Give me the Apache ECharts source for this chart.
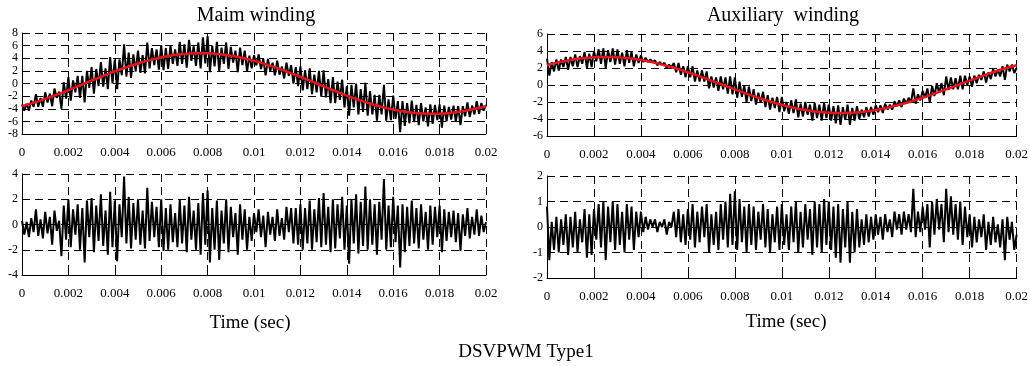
<!DOCTYPE html>
<html><head><meta charset="utf-8">
<script src="https://cdn.jsdelivr.net/npm/echarts@6/dist/echarts.min.js"></script>
<style>html,body{margin:0;padding:0;background:#fff}#c{width:1031px;height:366px}</style>
</head><body><div id="c"></div>
<script>
// sample spacing of the measured signals (s) and of the fitted fundamentals (s)
const sampleStep = 0.0001;
const fitStep = 0.0005;
const xTicks = [0,0.002,0.004,0.006,0.008,0.01,0.012,0.014,0.016,0.018,0.02];

// Main winding current (A), measured
const mainCurrent = [
-3.3,-4.3,-3.2,-4.3,-2.7,-3.7,-1.7,-3.7,-2.3,-3.7,
-1.4,-3.0,-1.6,-3.6,-0.8,-2.3,-1.3,-4.0,0.2,-2.4,
1.0,-2.7,0.5,-1.4,1.2,-2.3,1.2,-3.0,2.0,-0.7,
2.6,-1.6,2.3,-0.4,3.4,-0.5,2.4,-0.9,4.2,0.0,
3.8,-0.9,3.8,1.3,6.2,1.1,4.9,0.9,4.6,1.9,
5.2,1.7,4.5,1.6,6.5,2.4,5.6,2.9,5.4,2.2,
6.1,2.1,5.6,2.3,6.0,3.1,5.4,2.8,6.6,3.1,
6.2,2.5,6.9,3.6,5.9,2.8,6.5,2.4,7.3,3.2,
7.5,1.8,6.0,2.7,6.6,1.9,5.7,3.1,6.5,2.3,
5.8,3.3,5.2,1.8,5.7,2.9,5.2,1.9,4.4,2.4,
4.5,2.9,4.6,2.3,3.9,1.3,3.9,2.0,3.3,1.3,
3.6,1.4,2.7,0.8,3.3,1.2,2.9,0.0,2.6,-0.4,
2.7,-1.1,2.1,-0.9,2.4,-1.7,1.4,-1.4,2.0,-2.1,
2.1,-2.2,0.7,-3.1,1.0,-3.1,0.3,-2.6,0.6,-3.8,
-0.4,-5.1,-0.2,-3.8,0.0,-4.9,-0.9,-4.5,0.1,-5.1,
-1.2,-4.9,-1.8,-5.9,-1.8,-4.9,-0.2,-5.9,-2.5,-5.8,
-1.9,-5.6,-2.8,-7.7,-2.8,-6.7,-3.1,-6.3,-2.7,-6.1,
-3.4,-6.6,-3.1,-6.0,-3.8,-6.8,-3.3,-6.4,-3.4,-5.8,
-3.3,-7.0,-3.5,-6.0,-3.7,-5.7,-3.5,-6.0,-3.6,-6.6,
-3.6,-5.2,-3.0,-5.3,-3.5,-4.9,-2.8,-4.8,-3.1,-4.3,
-3.4];

// Main winding fundamental (A)
const mainFit = [
-3.60,-3.06,-2.44,-1.77,-1.05,-0.30,0.45,1.19,1.91,2.57,
3.17,3.70,4.13,4.46,4.68,4.79,4.78,4.65,4.40,4.05,
3.60,3.06,2.44,1.77,1.05,0.30,-0.45,-1.19,-1.91,-2.57,
-3.17,-3.70,-4.13,-4.46,-4.68,-4.79,-4.78,-4.65,-4.40,-4.05,
-3.60];

// Main winding ripple (A)
const mainRipple = [
0.3,-0.8,0.2,-1.0,0.5,-0.6,1.2,-0.9,0.4,-1.1,
1.0,-0.7,0.6,-1.6,1.1,-0.5,0.3,-2.5,1.5,-1.2,
2.0,-1.8,1.2,-0.8,1.6,-2.0,1.3,-3.0,1.9,-1.0,
2.1,-2.2,1.5,-1.3,2.4,-1.7,1.1,-2.4,2.6,-1.8,
1.9,-2.9,1.6,-1.0,3.8,-1.5,2.2,-1.9,1.7,-1.2,
2.0,-1.6,1.1,-1.9,2.9,-1.3,1.8,-1.0,1.4,-1.8,
2.0,-2.1,1.3,-2.0,1.6,-1.4,0.9,-1.8,2.0,-1.5,
1.5,-2.2,2.2,-1.2,1.1,-2.0,1.7,-2.4,2.5,-1.6,
2.7,-3.0,1.3,-2.0,1.9,-2.8,1.1,-1.5,2.0,-2.2,
1.4,-1.0,0.9,-2.4,1.6,-1.2,1.2,-2.0,0.6,-1.3,
0.9,-0.6,1.2,-1.0,0.7,-1.8,1.0,-0.8,0.6,-1.3,
1.2,-0.9,0.5,-1.2,1.4,-0.6,1.3,-1.5,1.3,-1.6,
1.6,-2.0,1.3,-1.5,1.9,-2.0,1.2,-1.4,2.1,-1.8,
2.5,-1.6,1.4,-2.2,2.0,-1.9,1.6,-1.1,2.2,-2.0,
1.5,-3.1,2.0,-1.5,2.4,-2.3,1.8,-1.7,3.0,-2.0,
2.0,-1.6,1.6,-2.4,1.8,-1.2,3.6,-2.0,1.5,-1.8,
2.2,-1.4,1.5,-3.4,1.6,-2.2,1.4,-1.7,1.9,-1.5,
1.3,-1.9,1.6,-1.2,1.0,-2.0,1.5,-1.6,1.4,-1.0,
1.5,-2.2,1.2,-1.3,1.0,-1.0,1.1,-1.4,0.9,-2.1,
0.8,-0.9,1.3,-1.1,0.6,-0.8,1.2,-0.9,0.7,-0.6,
0.2];

// Auxiliary winding current (A), measured
const auxCurrent = [
3.1,1.1,2.7,1.6,3.0,1.7,3.0,2.1,3.3,1.8,
3.3,2.2,3.6,2.1,3.4,2.5,3.9,2.0,3.7,2.1,
4.0,2.8,4.2,2.5,4.3,2.0,4.1,2.7,4.3,2.4,
4.2,2.5,3.8,2.2,4.1,2.6,3.9,2.2,3.6,2.6,
3.5,2.7,3.2,2.7,3.0,2.7,2.9,2.3,2.7,2.4,
2.6,2.0,2.4,2.1,2.6,1.5,2.6,1.2,2.2,0.9,
2.2,0.9,2.2,0.4,1.7,0.4,1.7,0.4,1.6,-0.4,
1.0,-0.3,0.9,-0.7,1.0,-0.5,0.9,-1.0,1.0,-1.1,
0.9,-1.5,0.4,-1.4,-0.1,-2.0,-0.2,-1.9,-0.5,-2.3,
-0.9,-2.1,-0.8,-2.6,-1.2,-2.9,-1.5,-2.7,-1.4,-3.2,
-1.4,-3.1,-2.0,-3.4,-1.8,-3.3,-1.7,-3.8,-2.2,-3.7,
-2.0,-3.5,-2.3,-4.2,-2.1,-3.9,-2.3,-4.2,-2.1,-3.9,
-2.3,-4.2,-2.5,-4.5,-2.4,-4.7,-2.6,-4.1,-2.3,-4.7,
-2.7,-4.2,-2.5,-4.0,-2.9,-3.8,-2.6,-3.7,-2.6,-3.5,
-2.4,-3.2,-2.4,-3.3,-2.2,-2.9,-2.3,-2.9,-1.9,-2.5,
-1.8,-2.6,-1.6,-2.2,-1.5,-2.1,-0.4,-2.2,-1.1,-1.8,
-0.7,-1.5,-0.4,-2.0,-0.1,-1.3,0.2,-0.9,0.2,-1.2,
1.0,-0.6,0.9,-0.5,0.8,-0.5,1.1,-0.5,1.1,0.0,
1.0,-0.2,1.1,0.2,1.2,0.6,1.6,0.3,1.5,0.7,
1.9,1.0,1.8,1.0,2.2,0.6,2.4,1.6,2.4,1.4,
2.0];

// Auxiliary winding fundamental (A)
const auxFit = [
2.33,2.67,2.94,3.14,3.26,3.30,3.26,3.14,2.94,2.67,
2.33,1.94,1.50,1.02,0.52,0.00,-0.52,-1.02,-1.50,-1.94,
-2.33,-2.67,-2.94,-3.14,-3.26,-3.30,-3.26,-3.14,-2.94,-2.67,
-2.33,-1.94,-1.50,-1.02,-0.52,0.00,0.52,1.02,1.50,1.94,
2.33];

// Auxiliary winding ripple (A)
const auxRipple = [
0.8,-1.3,0.2,-0.9,0.4,-1.0,0.3,-0.7,0.5,-1.1,
0.4,-0.8,0.6,-1.0,0.3,-0.6,0.7,-1.2,0.5,-1.1,
0.7,-0.5,0.9,-0.8,1.0,-1.3,0.8,-0.6,1.0,-0.9,
0.9,-0.7,0.6,-1.0,0.9,-0.5,0.8,-0.9,0.6,-0.4,
0.6,-0.2,0.4,-0.1,0.3,0.0,0.3,-0.2,0.2,0.0,
0.3,-0.3,0.2,0.0,0.6,-0.4,0.7,-0.6,0.5,-0.7,
0.7,-0.5,0.9,-0.8,0.6,-0.6,0.8,-0.4,0.9,-1.0,
0.5,-0.7,0.6,-0.9,0.9,-0.5,1.0,-0.8,1.3,-0.7,
1.4,-0.9,1.1,-0.6,0.8,-1.0,0.9,-0.7,0.8,-0.9,
0.6,-0.5,0.9,-0.8,0.7,-1.0,0.5,-0.6,0.8,-0.9,
0.9,-0.7,0.5,-0.9,0.8,-0.6,1.0,-1.0,0.6,-0.8,
0.9,-0.5,0.7,-1.1,1.0,-0.8,0.9,-1.0,1.1,-0.7,
1.0,-0.9,0.8,-1.2,0.9,-1.4,0.7,-0.8,1.0,-1.4,
0.6,-1.0,0.7,-0.8,0.3,-0.7,0.5,-0.6,0.4,-0.5,
0.5,-0.3,0.4,-0.5,0.5,-0.2,0.3,-0.4,0.6,-0.1,
0.5,-0.3,0.6,-0.1,0.5,-0.2,1.5,-0.4,0.6,-0.2,
0.8,-0.1,0.9,-0.8,1.0,-0.3,1.1,-0.1,0.9,-0.6,
1.5,-0.2,1.2,-0.3,0.9,-0.5,1.0,-0.7,0.8,-0.4,
0.5,-0.8,0.4,-0.6,0.3,-0.4,0.5,-0.9,0.2,-0.7,
0.4,-0.6,0.1,-0.8,0.3,-1.3,0.4,-0.5,0.2,-0.9,
-0.3];

const titles = ['Maim winding', 'Auxiliary  winding'];
const xName = 'Time (sec)';
const figureCaption = 'DSVPWM Type1';

const pairs = (arr, step) => arr.map((v, i) => [+(i * step).toFixed(5), v]);
const FONT = '"Liberation Serif", "Times New Roman", serif';

const grids = [
  {left: 22, top: 33, width: 464, height: 101},
  {left: 22, top: 174, width: 464, height: 101},
  {left: 547, top: 34, width: 470, height: 102},
  {left: 547, top: 176, width: 470, height: 102}
];
const yRanges = [[-8, 8, 2], [-4, 4, 2], [-6, 6, 2], [-2, 2, 1]];

const dash = {color: '#000', width: 1, type: [8, 5]};
const xAxes = grids.map((g, i) => ({
  type: 'value', gridIndex: i, min: 0, max: 0.02, interval: 0.002,
  axisLine: {show: true, onZero: false, lineStyle: {color: '#000', width: 1}},
  axisTick: {show: true, inside: true, length: 4, lineStyle: {color: '#000'}},
  splitLine: {show: true, lineStyle: dash},
  axisLabel: {color: '#000', fontFamily: FONT, fontSize: 13, margin: 12,
    formatter: v => String(+v.toFixed(3))}
}));
const yAxes = yRanges.map((r, i) => ({
  type: 'value', gridIndex: i, min: r[0], max: r[1], interval: r[2],
  axisLine: {show: true, onZero: false, lineStyle: {color: '#000', width: 1}},
  axisTick: {show: true, inside: true, length: 4, lineStyle: {color: '#000'}},
  splitLine: {show: true, lineStyle: dash},
  axisLabel: {color: '#000', fontFamily: FONT, fontSize: 12, margin: 4}
}));

const blk = (data, idx) => ({
  type: 'line', xAxisIndex: idx, yAxisIndex: idx, data: pairs(data, sampleStep),
  showSymbol: false, symbol: 'none', lineStyle: {color: '#000', width: 2}, z: 3
});
const red = (data, idx) => ({
  type: 'line', xAxisIndex: idx, yAxisIndex: idx, data: pairs(data, fitStep),
  showSymbol: false, symbol: 'none', smooth: true, lineStyle: {color: '#e8141c', width: 2.5}, z: 5
});

const txt = (text, x, y, size) => ({
  type: 'text', x: x, y: y, z: 10,
  style: {text: text, font: size + 'px ' + FONT, fill: '#000',
    textAlign: 'center', textVerticalAlign: 'middle', align: 'center', verticalAlign: 'middle'}
});

const chart = echarts.init(document.getElementById('c'), null, {renderer: 'canvas'});
chart.setOption({
  animation: false,
  backgroundColor: '#fff',
  grid: grids,
  xAxis: xAxes,
  yAxis: yAxes,
  series: [
    blk(mainCurrent, 0), red(mainFit, 0),
    blk(mainRipple, 1),
    blk(auxCurrent, 2), red(auxFit, 2),
    blk(auxRipple, 3)
  ],
  graphic: [
    txt(titles[0], 256, 16, 20),
    txt(titles[1], 783, 16, 20),
    txt(xName, 250, 323, 19),
    txt(xName, 786, 322, 19),
    txt(figureCaption, 526, 352, 19)
  ]
});
</script>
</body></html>
